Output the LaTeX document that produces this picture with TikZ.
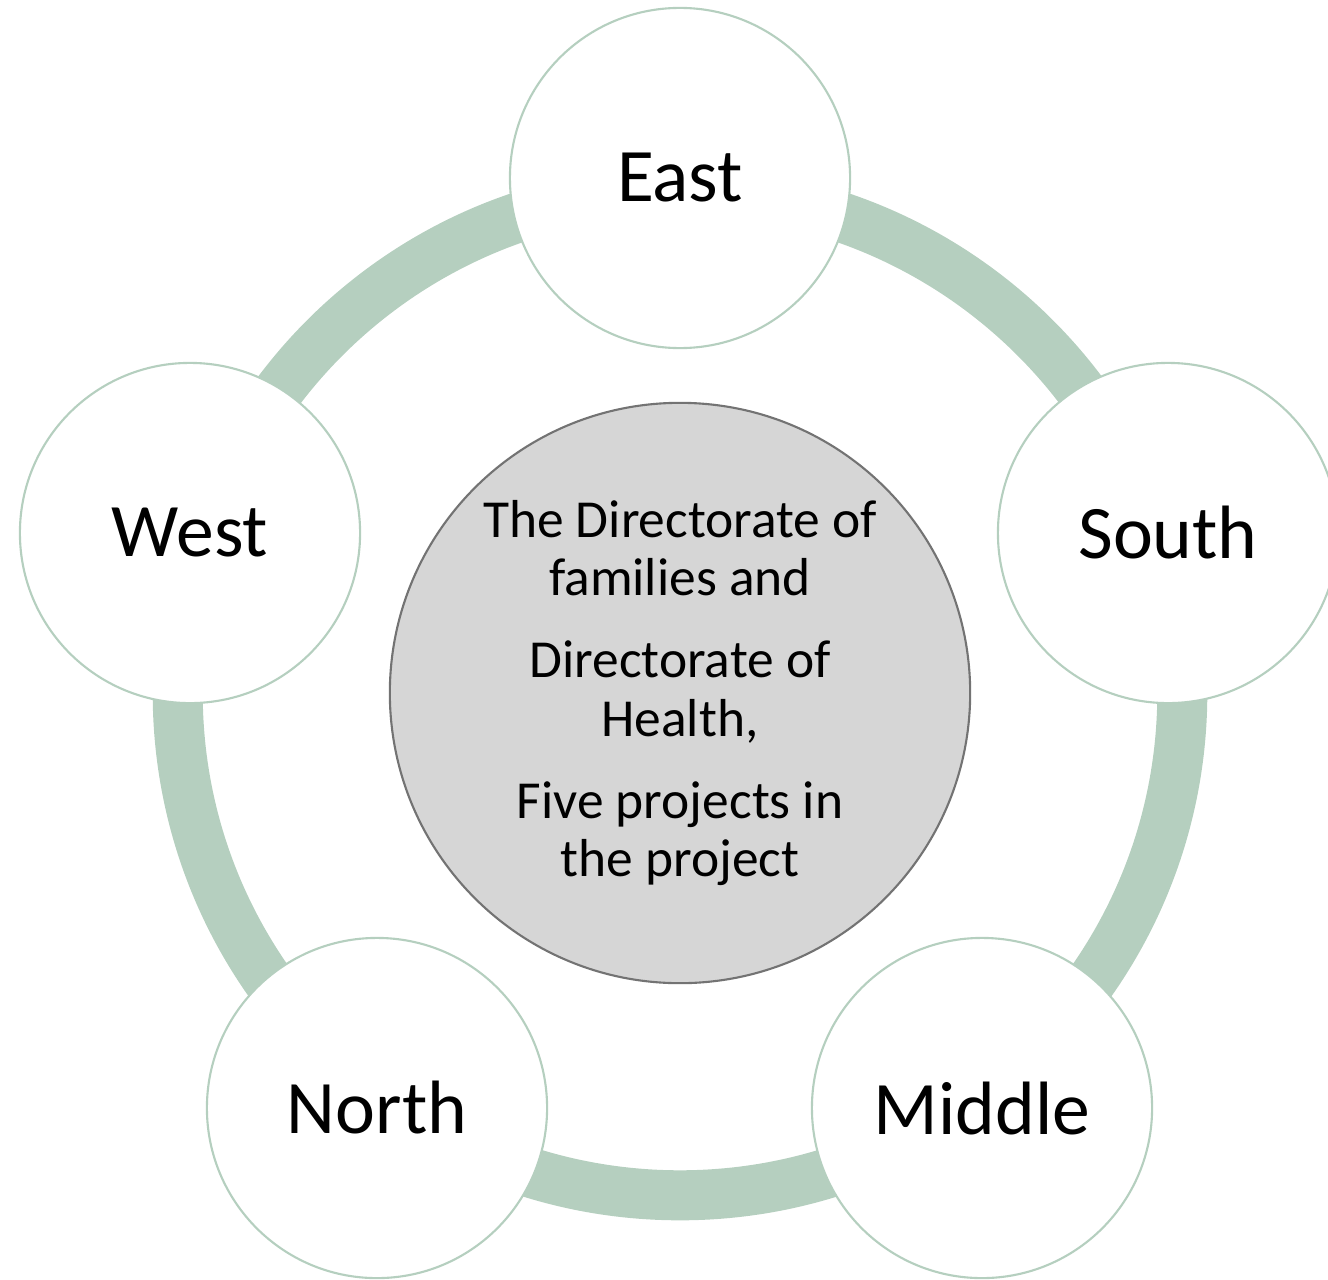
\documentclass[tikz,border=0pt]{standalone}
\usepackage{fontspec}
\setmainfont{Carlito}

\definecolor{ringgreen}{HTML}{B5CFBF}
\definecolor{hubgray}{HTML}{D6D6D6}

\begin{document}
\begin{tikzpicture}[x=0.01cm,y=-0.01cm]

\tikzstyle{region}=[circle,draw=ringgreen,line width=0.6pt,fill=white,minimum size=3.4cm,inner sep=0pt,font=\fontsize{21.5}{26}\selectfont]
\tikzstyle{hub}=[circle,draw=black!55,line width=0.6pt,fill=hubgray,minimum size=5.8cm,inner sep=0pt,align=center,font=\fontsize{15.2}{16.5}\selectfont]

\useasboundingbox (0,0) rectangle (1328,1279);

\node[hub] 		(hub) at (680,693) {The Directorate of\\families and\\[7pt]Directorate of\\Health,\\[7pt]Five projects in\\the project};

% ring behind the regions
\draw[ringgreen,line width=0.5cm] (hub.center) circle[radius=5.02cm];

\node[region] 	(east)   at (680,178)  {East};
\node[region] 	(south)  at (1168,533) {South};
\node[region] 	(middle) at (982,1108) {Middle};
\node[region] 	(north)  at (377,1108) {North};
\node[region] 	(west)   at (190,533)  {West};

\end{tikzpicture}
\end{document}
